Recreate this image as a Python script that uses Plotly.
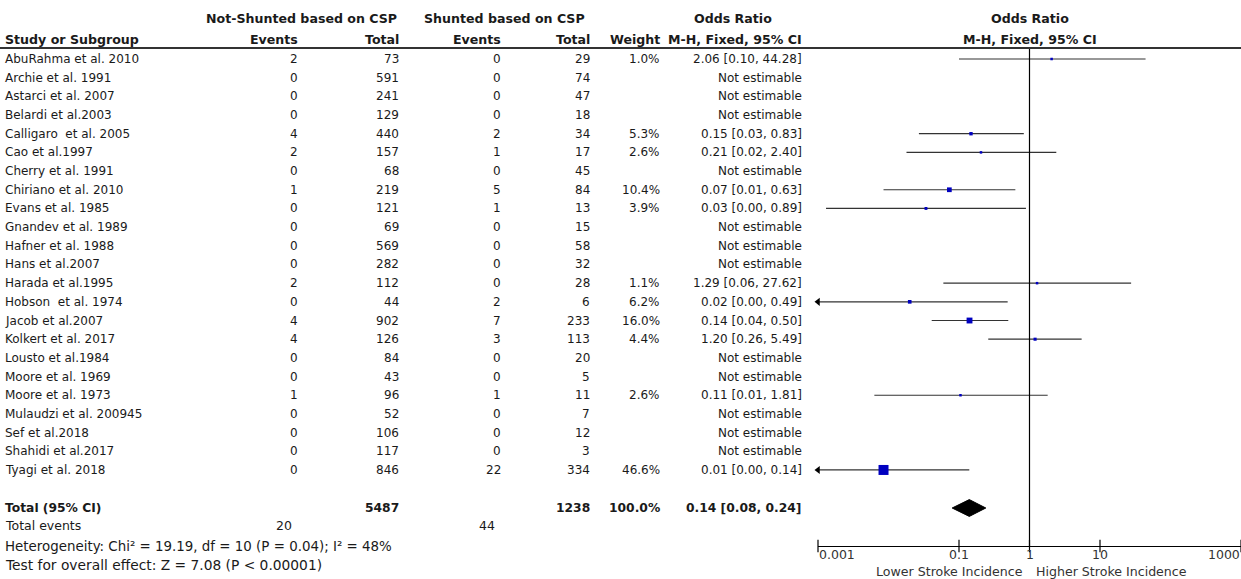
import numpy as np
import plotly.graph_objects as go

# ---------------- data ----------------
studies = ["AbuRahma et al. 2010", "Archie et al. 1991", "Astarci et al. 2007", "Belardi et al.2003",
           "Calligaro  et al. 2005", "Cao et al.1997", "Cherry et al. 1991", "Chiriano et al. 2010",
           "Evans et al. 1985", "Gnandev et al. 1989", "Hafner et al. 1988", "Hans et al.2007",
           "Harada et al.1995", "Hobson  et al. 1974", "Jacob et al.2007", "Kolkert et al. 2017",
           "Lousto et al.1984", "Moore et al. 1969", "Moore et al. 1973", "Mulaudzi et al. 200945",
           "Sef et al.2018", "Shahidi et al.2017", "Tyagi et al. 2018"]
ns_events = [2, 0, 0, 0, 4, 2, 0, 1, 0, 0, 0, 0, 2, 0, 4, 4, 0, 0, 1, 0, 0, 0, 0]
ns_total = [73, 591, 241, 129, 440, 157, 68, 219, 121, 69, 569, 282, 112, 44, 902, 126, 84, 43, 96, 52, 106, 117, 846]
s_events = [0, 0, 0, 0, 2, 1, 0, 5, 1, 0, 0, 0, 0, 2, 7, 3, 0, 0, 1, 0, 0, 0, 22]
s_total = [29, 74, 47, 18, 34, 17, 45, 84, 13, 15, 58, 32, 28, 6, 233, 113, 20, 5, 11, 7, 12, 3, 334]
weights = [1.0, None, None, None, 5.3, 2.6, None, 10.4, 3.9, None, None, None, 1.1, 6.2, 16.0, 4.4,
           None, None, 2.6, None, None, None, 46.6]
or_text = ["2.06 [0.10, 44.28]", "Not estimable", "Not estimable", "Not estimable", "0.15 [0.03, 0.83]",
           "0.21 [0.02, 2.40]", "Not estimable", "0.07 [0.01, 0.63]", "0.03 [0.00, 0.89]", "Not estimable",
           "Not estimable", "Not estimable", "1.29 [0.06, 27.62]", "0.02 [0.00, 0.49]", "0.14 [0.04, 0.50]",
           "1.20 [0.26, 5.49]", "Not estimable", "Not estimable", "0.11 [0.01, 1.81]", "Not estimable",
           "Not estimable", "Not estimable", "0.01 [0.00, 0.14]"]
# plotted estimates and CI (unrounded)
or_est = [2.06, None, None, None, 0.148, 0.205, None, 0.073, 0.034, None, None, None, 1.28, 0.020, 0.141,
          1.20, None, None, 0.105, None, None, None, 0.0085]
ci_low = [0.10, None, None, None, 0.027, 0.018, None, 0.0085, 0.0013, None, None, None, 0.060, 0.0006, 0.041,
          0.26, None, None, 0.0063, None, None, None, 0.0005]
ci_high = [44.28, None, None, None, 0.83, 2.40, None, 0.63, 0.89, None, None, None, 27.62, 0.49, 0.50,
           5.49, None, None, 1.81, None, None, None, 0.14]

total_ns, total_s = 5487, 1238
total_weight = "100.0%"
total_events_ns, total_events_s = 20, 44
pooled_or, pooled_low, pooled_high = 0.14, 0.08, 0.24
pooled_text = "0.14 [0.08, 0.24]"
heterogeneity_text = "Heterogeneity: Chi² = 19.19, df = 10 (P = 0.04); I² = 48%"
overall_text = "Test for overall effect: Z = 7.08 (P < 0.00001)"
axis_ticks = [0.001, 0.1, 1, 10, 1000]
axis_ticktext = ["0.001", "0.1", "1", "10", "1000"]
axis_min, axis_max = 0.001, 1000

# ---------------- geometry ----------------
W, H = 1241, 579
ROW0, DY = 59.0, 18.68          # pixel y of first row, row spacing
AXIS_PX = 546.0


def row_of(px):
    return (px - ROW0) / DY


def px_x(px):
    return px / W


def py_paper(px):
    return 1 - px / H


AXIS_ROW = row_of(AXIS_PX)
TOP_ROW = row_of(0)
n = len(studies)
TOTAL_ROW = row_of(508)

FONT = "DejaVu Sans"
TXT = "#1a1a1a"
BLUE = "#0000c0"
LINE = "#333333"

fig = go.Figure()

# CI lines
lx, ly = [], []
arrows_y = []
for i in range(n):
    if or_est[i] is None:
        continue
    lo = max(ci_low[i], axis_min)
    lx += [lo, ci_high[i], None]
    ly += [i, i, None]
    if ci_low[i] < axis_min:
        arrows_y.append(i)
fig.add_trace(go.Scatter(x=lx, y=ly, mode="lines", line=dict(color=LINE, width=1.2),
                         hoverinfo="skip", showlegend=False))
# arrows for truncated CIs
fig.add_trace(go.Scatter(x=[axis_min] * len(arrows_y), y=arrows_y, mode="markers",
                         marker=dict(symbol="triangle-left", size=7, color="black"),
                         cliponaxis=False, hoverinfo="skip", showlegend=False))
# point estimates, square area proportional to weight
px_, py_, ps_ = [], [], []
for i in range(n):
    if or_est[i] is None:
        continue
    px_.append(or_est[i])
    py_.append(i)
    ps_.append(max(2.5, 10.0 * np.sqrt(weights[i] / 46.6)))
fig.add_trace(go.Scatter(x=px_, y=py_, mode="markers",
                         marker=dict(symbol="square", size=ps_, color=BLUE, opacity=1,
                                     line=dict(width=0)),
                         hoverinfo="skip", showlegend=False))
# pooled diamond
dh = 0.45
fig.add_trace(go.Scatter(x=[pooled_low, pooled_or, pooled_high, pooled_or, pooled_low],
                         y=[TOTAL_ROW, TOTAL_ROW - dh, TOTAL_ROW, TOTAL_ROW + dh, TOTAL_ROW],
                         mode="lines", fill="toself", fillcolor="black",
                         line=dict(color="black", width=1), hoverinfo="skip", showlegend=False))
# line of no effect
fig.add_trace(go.Scatter(x=[1, 1], y=[row_of(48), AXIS_ROW], mode="lines",
                         line=dict(color="black", width=1.2), cliponaxis=False,
                         hoverinfo="skip", showlegend=False))
# axis tick marks crossing the axis line
fig.add_trace(go.Scatter(x=axis_ticks, y=[AXIS_ROW] * len(axis_ticks), mode="markers",
                         marker=dict(symbol="line-ns", size=9, line=dict(color="black", width=1.2)),
                         cliponaxis=False, hoverinfo="skip", showlegend=False))

ann = []


def add_text(text, xpx, row, anchor, bold=False, size=12, color=TXT, yref="y", pad=1):
    ann.append(dict(text=("<b>%s</b>" % text) if bold else text, x=px_x(xpx), xref="paper",
                    y=row, yref=yref, xanchor=anchor, yanchor="middle", showarrow=False,
                    borderpad=pad, font=dict(family=FONT, size=size, color=color)))


# headers
HB = 12.6
H1, H2 = row_of(18), row_of(39)
add_text("Not-Shunted based on CSP", 301, H1, "center", bold=True, size=HB)
add_text("Shunted based on CSP", 504, H1, "center", bold=True, size=HB)
add_text("Odds Ratio", 733, H1, "center", bold=True, size=HB)
add_text("Odds Ratio", 1030, H1, "center", bold=True, size=HB)
add_text("Study or Subgroup", 3, H2, "left", bold=True, size=HB)
add_text("Events", 300, H2, "right", bold=True, size=HB)
add_text("Total", 401, H2, "right", bold=True, size=HB)
add_text("Events", 503, H2, "right", bold=True, size=HB)
add_text("Total", 592, H2, "right", bold=True, size=HB)
add_text("Weight", 662, H2, "right", bold=True, size=HB)
add_text("M-H, Fixed, 95% CI", 804, H2, "right", bold=True, size=HB)
add_text("M-H, Fixed, 95% CI", 1030, H2, "center", bold=True, size=HB)

# study rows
for i in range(n):
    add_text(studies[i], 3, i, "left")
    add_text(str(ns_events[i]), 300, i, "right")
    add_text(str(ns_total[i]), 401, i, "right")
    add_text(str(s_events[i]), 503, i, "right")
    add_text(str(s_total[i]), 592, i, "right")
    if weights[i] is not None:
        add_text("%.1f%%" % weights[i], 662, i, "right")
    add_text(or_text[i], 804, i, "right")

# totals
add_text("Total (95% CI)", 3, TOTAL_ROW, "left", bold=True, size=12.3)
add_text(str(total_ns), 401, TOTAL_ROW, "right", bold=True, size=12.3)
add_text(str(total_s), 592, TOTAL_ROW, "right", bold=True, size=12.3)
add_text(total_weight, 662, TOTAL_ROW, "right", bold=True, size=12.3)
add_text(pooled_text, 804, TOTAL_ROW, "right", bold=True, size=12.3)
EV_ROW = row_of(525)
add_text("Total events", 3, EV_ROW, "left", size=12.5)
add_text(str(total_events_ns), 294, EV_ROW, "right", size=12.5)
add_text(str(total_events_s), 497, EV_ROW, "right", size=12.5)
add_text(heterogeneity_text, 3, py_paper(546), "left", size=13.4, yref="paper")
add_text(overall_text, 3, py_paper(565), "left", size=13.8, yref="paper")

# axis tick labels
for k, (v, t) in enumerate(zip(axis_ticks, axis_ticktext)):
    anchor = "left" if k == 0 else ("right" if k == len(axis_ticks) - 1 else "center")
    ann.append(dict(text=t, x=np.log10(v), xref="x", y=py_paper(554.5), yref="paper",
                    xanchor=anchor, yanchor="middle", showarrow=False, borderpad=0,
                    font=dict(family=FONT, size=12.5, color="#333333")))
add_text("Lower Stroke Incidence", 1024, py_paper(571), "right", size=12.6, color="#333333",
         yref="paper", pad=0)
add_text("Higher Stroke Incidence", 1035, py_paper(571), "left", size=12.6, color="#333333",
         yref="paper", pad=0)

fig.update_layout(
    width=W, height=H,
    margin=dict(l=0, r=0, t=0, b=0),
    paper_bgcolor="white", plot_bgcolor="white",
    annotations=ann,
    shapes=[dict(type="line", xref="paper", yref="y", x0=0, x1=1, y0=row_of(48), y1=row_of(48),
                 line=dict(color="#333333", width=1.8))],
    xaxis=dict(type="log", range=[np.log10(axis_min), np.log10(axis_max)],
               domain=[818 / W, 1], showgrid=False, zeroline=False, showticklabels=False,
               ticks="", showline=True, linecolor="black", linewidth=1.2),
    yaxis=dict(range=[AXIS_ROW, TOP_ROW], domain=[(H - AXIS_PX) / H, 1], visible=False,
               showgrid=False, zeroline=False),
    showlegend=False,
)

fig.write_html("out.html", config={"displayModeBar": False},
               post_script="document.body.style.margin='0px';document.body.style.padding='0px';"
                           "document.body.style.overflow='hidden';")
